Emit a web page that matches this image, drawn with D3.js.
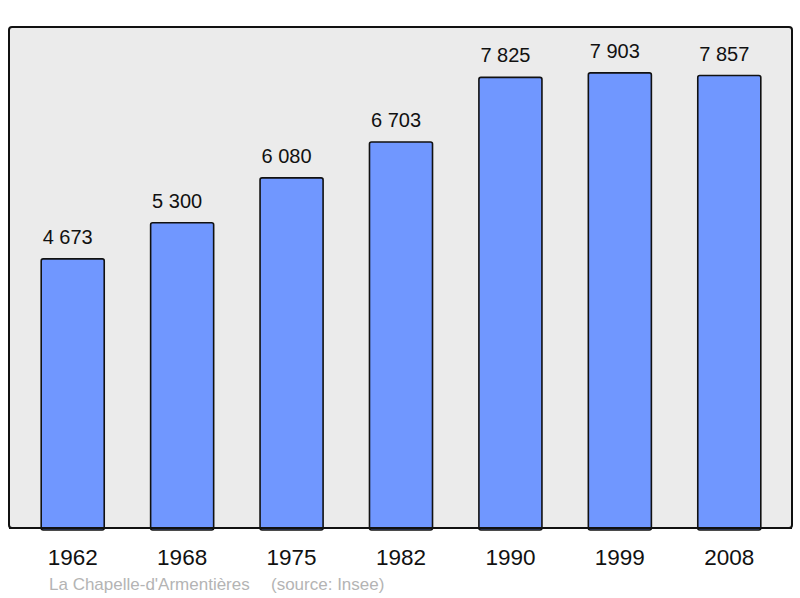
<!DOCTYPE html>
<html>
<head>
<meta charset="utf-8">
<script src="https://cdn.jsdelivr.net/npm/d3@7"></script>
<style>
  body { margin: 0; background: #fff; }
  svg { display: block; font-family: "Liberation Sans", Arial, sans-serif; }
</style>
</head>
<body>
<div id="chart"></div>
<script>
// donnees
const years = ["1962", "1968", "1975", "1982", "1990", "1999", "2008"];
const population = [4673, 5300, 6080, 6703, 7825, 7903, 7857];
const commune = "La Chapelle-d'Armentières";
const source = "(source: Insee)";

const width = 800, height = 598;

const svg = d3.select("#chart")
    .append("svg")
    .attr("width", width)
    .attr("height", height);

// panneau
const panel = { x: 9, y: 27, w: 783, h: 501 };

svg.append("rect")
    .attr("x", panel.x)
    .attr("y", panel.y)
    .attr("width", panel.w)
    .attr("height", panel.h)
    .attr("rx", 3)
    .attr("fill", "#ebebeb")
    .attr("stroke", "#111")
    .attr("stroke-width", 2);

const x = d3.scaleBand()
    .domain(years)
    .range([18, 784])
    .paddingInner(0.424)
    .paddingOuter(0.212);

const y = d3.scaleLinear()
    .domain([0, 8700])
    .range([panel.y + panel.h, panel.y]);

const fmt = v => d3.format(",")(v).replace(/,/g, " ");

const data = years.map((yr, i) => ({ year: yr, value: population[i] }));

// barres
svg.append("g")
    .selectAll("rect")
    .data(data)
    .enter()
    .append("rect")
    .attr("x", d => x(d.year))
    .attr("y", d => y(d.value))
    .attr("width", x.bandwidth())
    .attr("height", d => y(0) - y(d.value) + 2)
    .attr("rx", 2)
    .attr("fill", "#7097ff")
    .attr("stroke", "#111")
    .attr("stroke-width", 1.6);

// ligne du bas par-dessus les barres
svg.append("line")
    .attr("x1", panel.x)
    .attr("x2", panel.x + panel.w)
    .attr("y1", panel.y + panel.h)
    .attr("y2", panel.y + panel.h)
    .attr("stroke", "#111")
    .attr("stroke-width", 2);

// valeurs (un peu decalees a gauche, comme l'original)
svg.append("g")
    .selectAll("text")
    .data(data)
    .enter()
    .append("text")
    .attr("x", d => x(d.year) + x.bandwidth() / 2 - 5)
    .attr("y", d => y(d.value) - 15)
    .attr("text-anchor", "middle")
    .attr("fill", "#111")
    .style("font-size", "20px")
    .text(d => fmt(d.value));

// annees
svg.append("g")
    .selectAll("text")
    .data(years)
    .enter()
    .append("text")
    .attr("x", d => x(d) + x.bandwidth() / 2)
    .attr("y", 565)
    .attr("text-anchor", "middle")
    .attr("fill", "#111")
    .style("font-size", "22.5px")
    .text(d => d);

// legende
svg.append("text")
    .attr("x", 49)
    .attr("y", 590)
    .attr("fill", "#b4b4b4")
    .style("font-size", "17px")
    .text(commune);

svg.append("text")
    .attr("x", 271)
    .attr("y", 590)
    .attr("fill", "#b4b4b4")
    .style("font-size", "17px")
    .text(source);
</script>
</body>
</html>
